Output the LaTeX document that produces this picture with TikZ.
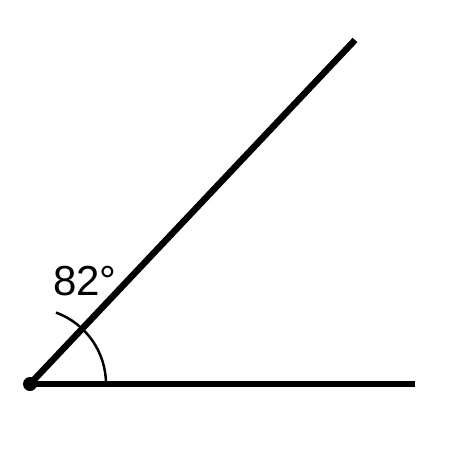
\documentclass[tikz,border=0pt]{standalone}
\usepackage{fontspec}
\setmainfont{Liberation Sans}
\usetikzlibrary{calc,positioning}

\begin{document}
\begin{tikzpicture}[x=1pt, y=-1pt]
    \useasboundingbox (0, 0) rectangle (450, 450);
    \coordinate (O) at (30, 384);
    \coordinate (A) at (415, 384);
    \coordinate (B) at (355, 40);
    \draw[line width=6.5pt] (O) -- (A);
    \draw[line width=6.5pt] (O) -- (B);
    \fill (O) circle (7pt);
    \draw[line width=2.5pt] ($(O)+(76,0)$) arc[start angle=0, end angle=-70, radius=76];
    \node (lbl) at (85, 281) {\fontsize{42}{46}\selectfont 82°};
\end{tikzpicture}
\end{document}
